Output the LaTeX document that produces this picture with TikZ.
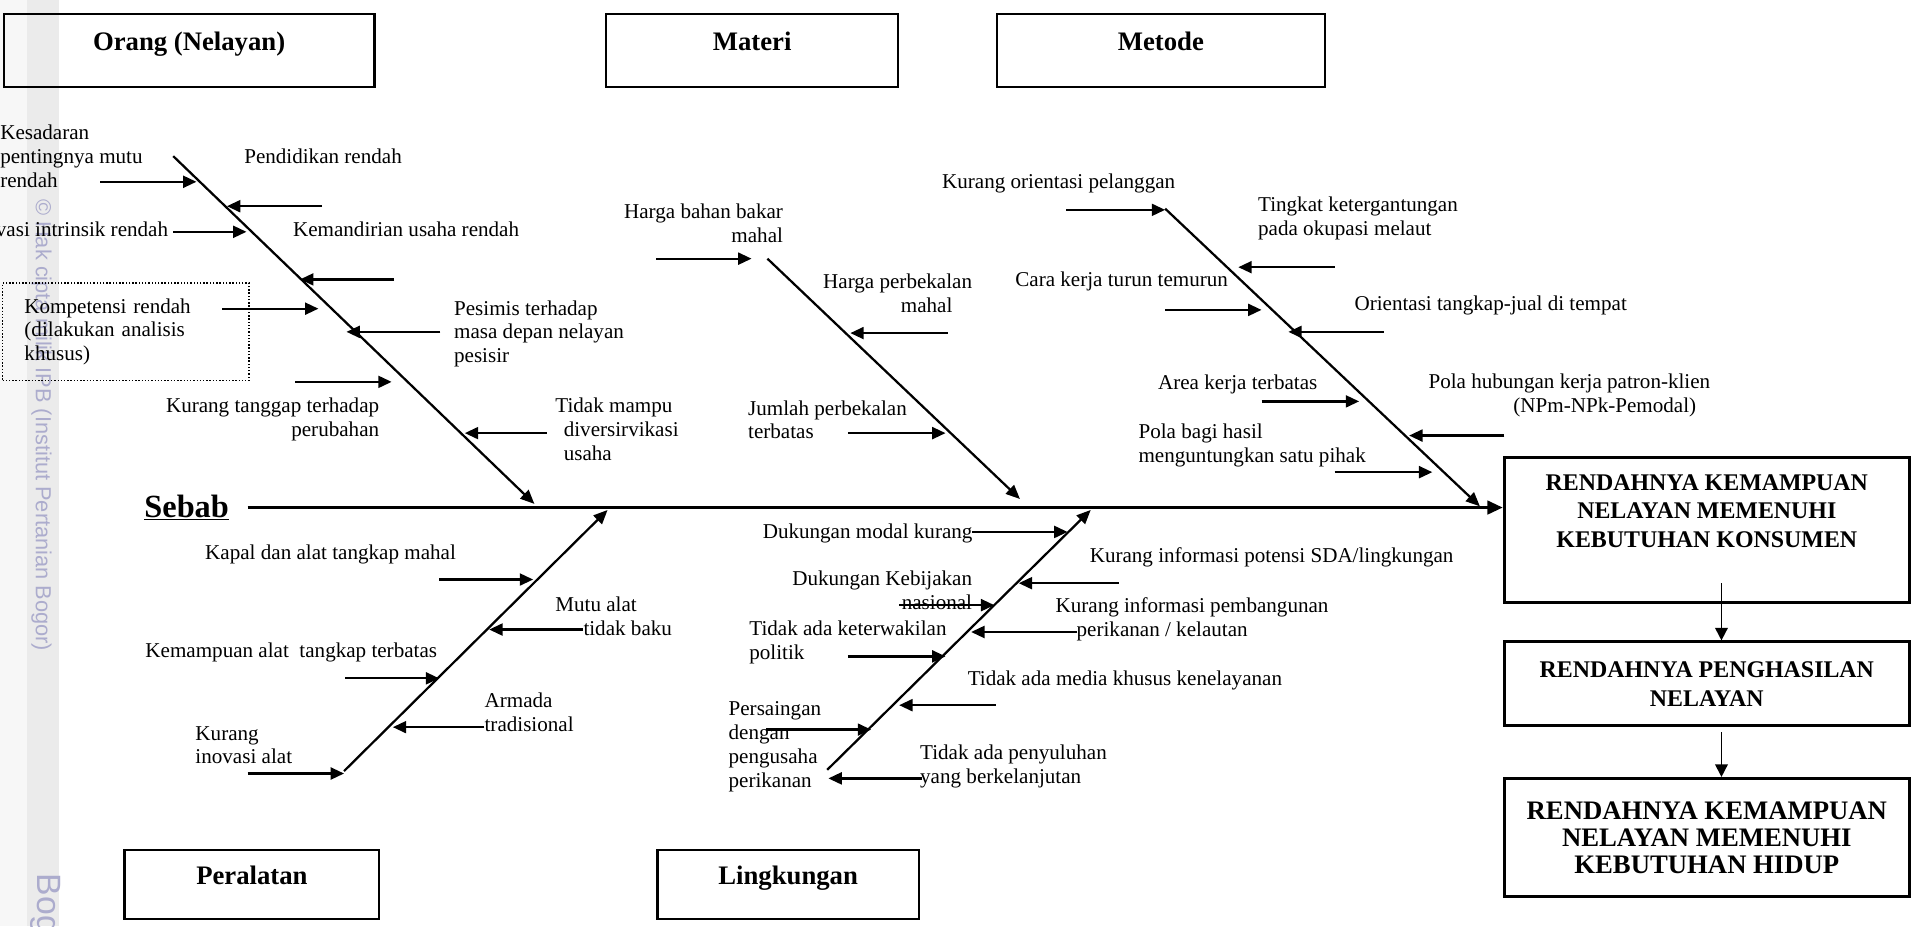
\documentclass[tikz,border=0pt]{standalone}
\usepackage{fontspec}
\setmainfont{Liberation Serif}
\setsansfont{Liberation Sans}
\usetikzlibrary{arrows.meta, positioning}
\definecolor{wmark}{RGB}{172,172,205}

\begin{document}
\begin{tikzpicture}[
    x=0.0305cm, y=-0.0305cm,
    cat/.style={draw, line width=1.6pt, inner sep=0pt, text height=15pt, text depth=15pt, font=\fontsize{19}{22}\selectfont\bfseries},
    lbl/.style={inner sep=0pt, anchor=north west, align=left, font=\fontsize{15}{17}\selectfont},
    lblr/.style={lbl, anchor=north east, align=right},
    res/.style={draw, line width=2pt, minimum width=10.13cm, inner sep=0pt, align=center, font=\fontsize{17}{20}\selectfont\bfseries},
    dotbox/.style={draw, line width=1.2pt, dash pattern=on 1pt off 1.3pt, inner xsep=15.6pt, align=left, font=\fontsize{15}{17}\selectfont},
    bone/.style={line width=1.6pt, -{Triangle[length=10pt,width=8.5pt]}},
    cz/.style={line width=1.6pt, -{Triangle[length=9.5pt,width=8.5pt]}},
    spine/.style={line width=2.4pt, -{Triangle[length=11pt,width=9.5pt]}},
    wm/.style={text=wmark, inner sep=0pt, rotate=-90, anchor=west, font=\sffamily\fontsize{15.5}{16}\selectfont},
]
\useasboundingbox (0,0) rectangle (1568,759);

% Scan watermark
\fill[black!3] (0,0) rectangle (22,759);
\fill[black!8] (22,0) rectangle (48,759);
\node[wm] (wm1) at (34,163) {\textcopyright\ Hak cipta milik IPB (Institut Pertanian Bogor)};
\node[wm, font=\sffamily\fontsize{24}{24}\selectfont] (wm2) at (37,716) {Bog};

% Category boxes
\node[cat, minimum width=9.27cm, minimum height=1.83cm] (orang) at (155,41.4) {Orang (Nelayan)};
\node[cat, minimum width=7.29cm, minimum height=1.83cm] (materi) at (616.5,41.4) {Materi};
\node[cat, minimum width=8.21cm, minimum height=1.83cm] (metode) at (951.5,41.4) {Metode};
\node[cat, minimum width=6.37cm, minimum height=1.71cm] (alat) at (206.5,725) {Peralatan};
\node[cat, minimum width=6.53cm, minimum height=1.71cm] (ling) at (646,725) {Lingkungan};

% Effect boxes
\node[res, minimum height=3.63cm] (r1) at (1399,434.5) {};
\node[res, draw=none] (r1t) at (1399,419) {RENDAHNYA KEMAMPUAN\\NELAYAN MEMENUHI\\KEBUTUHAN KONSUMEN};
\node[res, minimum height=2.10cm, font=\fontsize{17}{20.8}\selectfont\bfseries] (r2) at (1399,560.5) {RENDAHNYA PENGHASILAN\\NELAYAN};
\node[res, minimum height=2.96cm, font=\fontsize{19}{19.2}\selectfont\bfseries] (r3) at (1399,686.5) {RENDAHNYA KEMAMPUAN\\NELAYAN MEMENUHI\\KEBUTUHAN HIDUP};

\coordinate (a1) at (1411,478);
\coordinate (a2) at (1411,600);
\draw[line width=1.2pt, -{Triangle[length=9pt,width=9pt]}] (a1) -- (a1 |- r2.north);
\draw[line width=1.2pt, -{Triangle[length=9pt,width=9pt]}] (a2) -- (a2 |- r3.north);

% Spine
\node[font=\fontsize{23}{26}\selectfont\bfseries, inner sep=0pt] (sebab) at (153,416) {\underline{Sebab}};
\coordinate (sp) at (203,416);
\draw[spine] (sp) -- (sp -| r1.west);

% Bones
\coordinate (ob1) at (142,128);  \coordinate (ob2) at (438,413);
\coordinate (mb1) at (629,212);  \coordinate (mb2) at (836,409);
\coordinate (tb1) at (955,171);  \coordinate (tb2) at (1213,415);
\coordinate (pb1) at (282,632);  \coordinate (pb2) at (498,418);
\coordinate (lb1) at (678,631);  \coordinate (lb2) at (894,418);
\draw[bone] (ob1) -- (ob2);
\draw[bone] (mb1) -- (mb2);
\draw[bone] (tb1) -- (tb2);
\draw[bone] (pb1) -- (pb2);
\draw[bone] (lb1) -- (lb2);

% Orang (Nelayan)
\node[lbl] (kes) at (0,102) {Kesadaran\\pentingnya mutu\\rendah};
\node[lbl] (pend) at (200,122) {Pendidikan rendah};
\node[lblr] (moti) at (138,182) {Motivasi intrinsik rendah};
\node[lbl] (mand) at (240,182) {Kemandirian usaha rendah};
\node[dotbox, text width=5.06cm, minimum height=2.44cm] (komp) at (103,272) {Kompetensi rendah\\(dilakukan analisis\\khusus)};
\node[lbl] (pesi) at (372,246) {Pesimis terhadap\\masa depan nelayan\\pesisir};
\node[lblr] (tang) at (311,326) {Kurang tanggap terhadap\\perubahan};
\node[lbl] (dive) at (455,326) {Tidak mampu\\\hspace*{6pt}diversirvikasi\\\hspace*{6pt}usaha};

\coordinate (o1s) at (82,149);   \coordinate (o1e) at (161,149);
\coordinate (o2s) at (264,169);  \coordinate (o2e) at (186,169);
\coordinate (o3s) at (142,190);  \coordinate (o3e) at (202,190);
\coordinate (o4s) at (323,229);  \coordinate (o4e) at (246,229);
\coordinate (o5s) at (182,253);  \coordinate (o5e) at (261,253);
\coordinate (o6s) at (361,272);  \coordinate (o6e) at (284,272);
\coordinate (o7s) at (242,313);  \coordinate (o7e) at (321,313);
\coordinate (o8s) at (448,355);  \coordinate (o8e) at (381,355);
\draw[cz] (o1s) -- (o1e);
\draw[cz] (o2s) -- (o2e);
\draw[cz] (o3s) -- (o3e);
\draw[cz] (o4s) -- (o4e);
\draw[cz] (o5s) -- (o5e);
\draw[cz] (o6s) -- (o6e);
\draw[cz] (o7s) -- (o7e);
\draw[cz] (o8s) -- (o8e);

% Materi
\node[lblr] (bbm) at (642,167) {Harga bahan bakar\\mahal};
\node[lblr] (bek) at (797,224) {Harga perbekalan\\mahal\hspace*{14pt}};
\node[lbl] (jml) at (613,328) {Jumlah perbekalan\\terbatas};

\coordinate (m1s) at (538,212);  \coordinate (m1e) at (616,212);
\coordinate (m2s) at (777,273);  \coordinate (m2e) at (697,273);
\coordinate (m3s) at (695,355);  \coordinate (m3e) at (775,355);
\draw[cz] (m1s) -- (m1e);
\draw[cz] (m2s) -- (m2e);
\draw[cz] (m3s) -- (m3e);

% Metode
\node[lbl] (plg) at (772,142) {Kurang orientasi pelanggan};
\node[lbl] (tkt) at (1031,161) {Tingkat ketergantungan\\pada okupasi melaut};
\node[lbl] (cara) at (832,223) {Cara kerja turun temurun};
\node[lbl] (ort) at (1110,242) {Orientasi tangkap-jual di tempat};
\node[lbl] (area) at (949,307) {Area kerja terbatas};
\node[lblr] (patr) at (1402,306) {Pola hubungan kerja patron-klien\\(NPm-NPk-Pemodal)\hspace*{10pt}};
\node[lbl] (bagi) at (933,347) {Pola bagi hasil\\menguntungkan satu pihak};

\coordinate (t1s) at (874,172);   \coordinate (t1e) at (955,172);
\coordinate (t2s) at (1094,219);  \coordinate (t2e) at (1015,219);
\coordinate (t3s) at (955,254);   \coordinate (t3e) at (1034,254);
\coordinate (t4s) at (1134,272);  \coordinate (t4e) at (1056,272);
\coordinate (t5s) at (1034,329);  \coordinate (t5e) at (1114,329);
\coordinate (t6s) at (1233,357);  \coordinate (t6e) at (1155,357);
\coordinate (t7s) at (1094,387);  \coordinate (t7e) at (1174,387);
\draw[cz] (t1s) -- (t1e);
\draw[cz] (t2s) -- (t2e);
\draw[cz] (t3s) -- (t3e);
\draw[cz] (t4s) -- (t4e);
\draw[cz] (t5s) -- (t5e);
\draw[cz] (t6s) -- (t6e);
\draw[cz] (t7s) -- (t7e);

% Peralatan
\node[lbl] (kpl) at (168,446) {Kapal dan alat tangkap mahal};
\node[lbl] (mutu) at (455,489) {Mutu alat\\\hspace*{20pt}tidak baku};
\node[lbl] (kmp) at (119,527) {Kemampuan alat\ \ tangkap terbatas};
\node[lbl] (arm) at (397,568) {Armada\\tradisional};
\node[lbl] (inov) at (160,595) {Kurang\\inovasi alat};

\coordinate (p1s) at (360,475);  \coordinate (p1e) at (437,475);
\coordinate (p2s) at (478,516);  \coordinate (p2e) at (401,516);
\coordinate (p3s) at (283,556);  \coordinate (p3e) at (360,556);
\coordinate (p4s) at (397,596);  \coordinate (p4e) at (322,596);
\coordinate (p5s) at (203,634);  \coordinate (p5e) at (282,634);
\draw[cz] (p1s) -- (p1e);
\draw[cz] (p2s) -- (p2e);
\draw[cz] (p3s) -- (p3e);
\draw[cz] (p4s) -- (p4e);
\draw[cz] (p5s) -- (p5e);

% Lingkungan
\node[lbl] (mod) at (625,429) {Dukungan modal kurang};
\node[lbl] (sda) at (893,449) {Kurang informasi potensi SDA/lingkungan};
\node[lblr] (kbj) at (797,468) {Dukungan Kebijakan\\nasional};
\node[lbl] (pbg) at (865,490) {Kurang informasi pembangunan\\\hspace*{15pt}perikanan / kelautan};
\node[lbl] (pol) at (614,509) {Tidak ada keterwakilan\\politik};
\node[lbl] (med) at (793,550) {Tidak ada media khusus kenelayanan};
\node[lbl] (sai) at (597,575) {Persaingan\\dengan\\pengusaha\\perikanan};
\node[lbl] (luh) at (754,610) {Tidak ada penyuluhan\\yang berkelanjutan};

\coordinate (l1s) at (797,436);  \coordinate (l1e) at (875,436);
\coordinate (l2s) at (917,478);  \coordinate (l2e) at (835,478);
\coordinate (l3s) at (737,496);  \coordinate (l3e) at (815,496);
\coordinate (l4s) at (883,518);  \coordinate (l4e) at (796,518);
\coordinate (l5s) at (695,538);  \coordinate (l5e) at (775,538);
\coordinate (l6s) at (816,578);  \coordinate (l6e) at (737,578);
\coordinate (l7s) at (628,598);  \coordinate (l7e) at (714,598);
\coordinate (l8s) at (756,638);  \coordinate (l8e) at (679,638);
\draw[cz] (l1s) -- (l1e);
\draw[cz] (l2s) -- (l2e);
\draw[cz] (l3s) -- (l3e);
\draw[cz] (l4s) -- (l4e);
\draw[cz] (l5s) -- (l5e);
\draw[cz] (l6s) -- (l6e);
\draw[cz] (l7s) -- (l7e);
\draw[cz] (l8s) -- (l8e);

\end{tikzpicture}
\end{document}
